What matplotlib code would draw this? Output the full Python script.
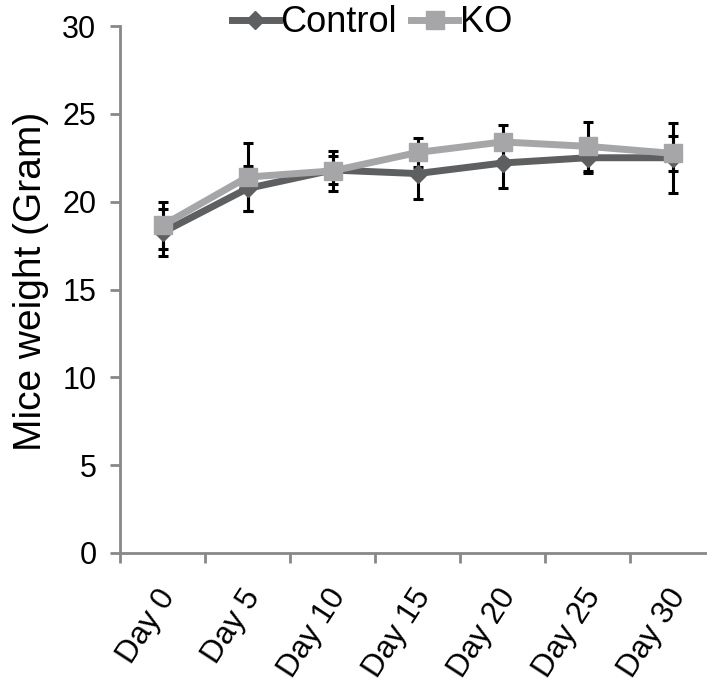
import matplotlib.pyplot as plt
import numpy as np

plt.rcParams['font.family'] = ['Liberation Sans', 'DejaVu Sans']

# Data
days = ['Day 0', 'Day 5', 'Day 10', 'Day 15', 'Day 20', 'Day 25', 'Day 30']
control = [18.25, 20.75, 21.8, 21.6, 22.2, 22.5, 22.5]
control_err = [1.35, 1.3, 0.8, 1.45, 1.4, 0.85, 2.0]
ko = [18.65, 21.4, 21.75, 22.8, 23.4, 23.15, 22.75]
ko_err = [1.35, 1.95, 1.15, 0.85, 0.95, 1.4, 1.0]

dark = '#5d5f60'
light = '#a6a6a8'
axis_col = '#888888'

fig = plt.figure(figsize=(7.07, 6.82), dpi=100)
ax = fig.add_axes([120 / 707, 129 / 682, 595 / 707, 527 / 682])

x = np.arange(len(days))

# error bars under the lines
ax.errorbar(x, control, yerr=control_err, fmt='none', ecolor='black',
            elinewidth=2.2, capsize=3.5, capthick=2.2, zorder=1)
ax.errorbar(x, ko, yerr=ko_err, fmt='none', ecolor='black',
            elinewidth=2.2, capsize=3.5, capthick=2.2, zorder=1)

ax.plot(x, control, color=dark, lw=5, marker='D', markersize=9,
        label='Control', zorder=2)
ax.plot(x, ko, color=light, lw=5, marker='s', markersize=13,
        label='KO', zorder=3)

ax.set_xlim(-0.5, len(days) - 0.5)
ax.set_ylim(0, 30)
ax.set_yticks([0, 5, 10, 15, 20, 25, 30])

# ticks at category boundaries, labels (invisible minor ticks) near centres
ax.set_xticks(np.arange(-0.5, len(days), 1.0))
ax.set_xticklabels([])
ax.set_xticks(x + 0.08, minor=True)
ax.set_xticklabels(days, minor=True, rotation=57, ha='right', va='center',
                   rotation_mode='anchor', fontsize=22.5)
ax.tick_params(axis='x', which='major', length=7.5, width=2, color=axis_col,
               direction='out')
ax.tick_params(axis='x', which='minor', length=0, pad=28)
ax.tick_params(axis='y', length=7, width=2, color=axis_col, labelsize=22, pad=10)

for s in ['top', 'right']:
    ax.spines[s].set_visible(False)
for s in ['left', 'bottom']:
    ax.spines[s].set_color(axis_col)
    ax.spines[s].set_linewidth(2)

ax.set_ylabel('Mice weight (Gram)', fontsize=28)
ax.yaxis.set_label_coords(-0.12, 0.515)

fig.legend(loc='center', bbox_to_anchor=(372 / 707, 1 - 23 / 682), ncol=2,
           frameon=False, fontsize=26, handlelength=1.3, handletextpad=0.05,
           columnspacing=0.4, borderpad=0)

fig.savefig('out.png', dpi=100)
